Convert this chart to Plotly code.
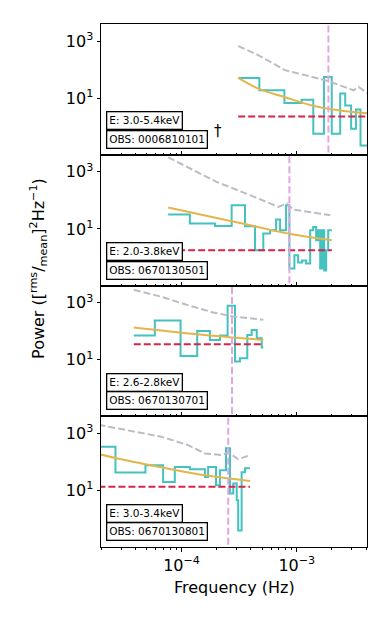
import plotly.graph_objects as go
from plotly.subplots import make_subplots

# text boxes
energy_bands = ["E: 3.0-5.4keV", "E: 2.0-3.8keV", "E: 2.6-2.8keV", "E: 3.0-3.4keV"]
obs_ids = ["OBS: 0006810101", "OBS: 0670130501", "OBS: 0670130701", "OBS: 0670130801"]

# binned power spectra: bin edges (Hz) and power per bin
psd1_edges = [3.10e-4, 4.73e-4, 7.80e-4, 1.10e-3, 1.39e-3, 1.72e-3, 2.01e-3,
              2.38e-3, 2.63e-3, 2.96e-3, 3.26e-3, 3.57e-3, 4.3e-3]
psd1_power = [51.4, 19.0, 6.8, 8.9, 0.57, 55.7, 0.57, 14.5, 5.6, 0.85, 4.0, 0.22]

psd2_edges = [7.65e-5, 1.18e-4, 1.95e-4, 2.72e-4, 3.55e-4, 4.34e-4, 5.12e-4,
              5.86e-4, 6.61e-4, 7.16e-4, 8.07e-4, 8.62e-4, 9.53e-4, 1.026e-3,
              1.112e-3, 1.205e-3, 1.306e-3, 1.386e-3, 1.472e-3, 1.531e-3,
              1.595e-3, 1.66e-3, 1.728e-3, 1.798e-3, 1.871e-3, 2.015e-3]
psd2_power = [32.0, 15.5, 12.7, 68, 12.4, 1.78, 6.9, 9.0, 21.4, 9.0, 68, 0.41,
              1.19, 0.67, 0.79, 0.62, 9.0, 11.7, 4.0, 9.0, 0.41, 9.0, 0.35, 1.78, 9.0]

psd3_edges = [3.85e-5, 5.86e-5, 9.80e-5, 1.367e-4, 1.762e-4, 2.153e-4, 2.51e-4,
              2.91e-4, 3.21e-4, 3.72e-4, 4.06e-4, 4.49e-4, 4.96e-4, 5.12e-4]
psd3_power = [70.5, 238, 13.5, 102, 49.4, 70.5, 775, 8.6, 11.2, 74, 111, 56.6, 26.7]

psd4_edges = [1.9e-5, 2.67e-5, 4.86e-5, 6.92e-5, 8.74e-5, 1.18e-4, 1.595e-4,
              1.70e-4, 1.99e-4, 2.153e-4, 2.43e-4, 2.63e-4, 2.81e-4, 3.01e-4,
              3.10e-4, 3.32e-4, 3.55e-4, 3.93e-4]
psd4_power = [338, 42.5, 76.8, 19.9, 66.9, 55.6, 29.8, 66.9, 15.2, 51.2, 304,
              7.8, 17.5, 4.5, 0.40, 43.5, 60.3]

# best-fit red-noise model (orange)
model1_f = [3.10e-4, 4.63e-4, 7.80e-4, 1.35e-3, 2.30e-3, 4.1e-3]
model1_p = [51.4, 21.8, 11.0, 5.6, 3.76, 2.95]
model2_f = [7.65e-5, 2.72e-4, 8.45e-4, 1.306e-3, 2.015e-3]
model2_p = [56.4, 18.6, 6.9, 5.1, 4.0]
model3_f = [3.85e-5, 1.35e-4, 2.6e-4, 5.12e-4]
model3_p = [135, 78, 61.5, 49.4]
model4_f = [1.9e-5, 2.91e-5, 6.48e-5, 1.44e-4, 3.93e-4]
model4_p = [190, 126, 66, 36, 21.4]

# significance curve (grey dashed)
sig1_f = [3.10e-4, 4.63e-4, 7.91e-4, 1.35e-3, 1.76e-3, 2.15e-3, 3.10e-3, 3.44e-3, 4.1e-3]
sig1_p = [670, 324, 96, 55.7, 42.7, 32.7, 19.0, 24.8, 15]
sig2_f = [7.65e-5, 2.01e-4, 3.93e-4, 6.92e-4, 8.19e-4, 9.33e-4, 1.95e-3]
sig2_p = [3240, 449, 153, 59.3, 78, 48, 30.3]
sig3_f = [3.85e-5, 6.48e-5, 1.105e-4, 1.88e-4, 2.81e-4, 5.12e-4]
sig3_p = [2830, 1660, 841, 454, 329, 250]
sig4_f = [1.9e-5, 3.43e-5, 6.70e-5, 1.14e-4, 1.595e-4, 2.23e-4, 2.54e-4, 3.10e-4, 3.93e-4]
sig4_p = [2000, 1305, 760, 388, 198, 173, 215, 125, 173]

# white-noise level (red dashed) and QPO frequency (pink dashed)
noise_levels = [2.31, 1.78, 34.8, 13.6]
qpo_freqs = [1.88e-3, 8.62e-4, 2.74e-4, 2.54e-4]

x_ticks = [1e-4, 1e-3]
x_ticktext = ["10<sup>\u22124</sup>", "10<sup>\u22123</sup>"]
y_ticks = [10, 1000]
y_ticktext = ["10<sup>1</sup>", "10<sup>3</sup>"]

TEAL = "#44c2c0"
ORANGE = "#e4b54a"
RED = "#d6254a"
GREY = "#bcbcc6"
PINK = "#e2a6e0"
FONT = "DejaVu Sans"

edges_all = [psd1_edges, psd2_edges, psd3_edges, psd4_edges]
power_all = [psd1_power, psd2_power, psd3_power, psd4_power]
model_all = [(model1_f, model1_p), (model2_f, model2_p), (model3_f, model3_p), (model4_f, model4_p)]
sig_all = [(sig1_f, sig1_p), (sig2_f, sig2_p), (sig3_f, sig3_p), (sig4_f, sig4_p)]

fig = make_subplots(rows=4, cols=1, shared_xaxes=True, vertical_spacing=0)

for i in range(4):
    row = i + 1
    edges = edges_all[i]
    power = power_all[i]
    fig.add_trace(go.Scatter(x=edges, y=power + [power[-1]], mode="lines",
                             line=dict(color=TEAL, width=2, shape="hv")), row=row, col=1)
    mf, mp = model_all[i]
    fig.add_trace(go.Scatter(x=mf, y=mp, mode="lines",
                             line=dict(color=ORANGE, width=2, shape="spline")), row=row, col=1)
    fig.add_trace(go.Scatter(x=[edges[0], edges[-1]], y=[noise_levels[i]] * 2, mode="lines",
                             line=dict(color=RED, width=2, dash="7px,3px")), row=row, col=1)
    sf, sp = sig_all[i]
    fig.add_trace(go.Scatter(x=sf, y=sp, mode="lines",
                             line=dict(color=GREY, width=2, dash="7px,3px")), row=row, col=1)
    fig.add_trace(go.Scatter(x=[qpo_freqs[i]] * 2, y=[1e-3, 1e5], mode="lines",
                             line=dict(color=PINK, width=2, dash="7px,3px")), row=row, col=1)

minor_vals = [m * 10 ** e for e in (-5, -4, -3) for m in range(2, 10)]

for i in range(4):
    row = i + 1
    bottom = row == 4
    fig.update_xaxes(type="log", range=[-4.699, -2.391], tickmode="array",
                     tickvals=x_ticks, ticktext=x_ticktext,
                     ticks="outside" if bottom else "inside", ticklen=4, tickwidth=1,
                     tickcolor="black", showticklabels=bottom,
                     minor=dict(tickmode="array", tickvals=minor_vals,
                                ticks="outside" if bottom else "inside",
                                ticklen=2, tickwidth=0.8, tickcolor="black", showgrid=False),
                     showline=True, mirror=True, linecolor="black", linewidth=1,
                     showgrid=False, zeroline=False,
                     tickfont=dict(family=FONT, size=16, color="black"), row=row, col=1)
    fig.update_yaxes(type="log", range=[-0.98, 3.6], tickmode="array",
                     tickvals=y_ticks, ticktext=y_ticktext,
                     ticks="outside", ticklen=3.5, tickwidth=1, tickcolor="black",
                     showline=True, mirror=True, linecolor="black", linewidth=1,
                     showgrid=False, zeroline=False,
                     tickfont=dict(family=FONT, size=16, color="black"), row=row, col=1)

# panel labels, positions in pixels converted to paper units
L, R, T, B = 101, 366.7, 24, 547
def px_x(px):
    return (px - L) / (R - L)
def px_y(py):
    return (B - py) / (B - T)

panel_h = (B - T) / 4
annotations = []
for i in range(4):
    pbottom = T + panel_h * (i + 1)
    for txt, yc in ((energy_bands[i], pbottom - 34), (obs_ids[i], pbottom - 15.5)):
        annotations.append(dict(text=txt, xref="paper", yref="paper",
                                x=px_x(106), y=px_y(yc), xanchor="left", yanchor="middle",
                                showarrow=False, bgcolor="white", bordercolor="black",
                                borderwidth=1.3, borderpad=2,
                                font=dict(family=FONT, size=10.5, color="black")))

annotations.append(dict(text="\u2020", xref="paper", yref="paper", x=px_x(212), y=px_y(131),
                        xanchor="left", yanchor="middle", showarrow=False,
                        font=dict(family=FONT, size=15, color="black")))
annotations.append(dict(text="Frequency (Hz)", xref="paper", yref="paper",
                        x=0.5, y=px_y(587), xanchor="center", yanchor="middle",
                        showarrow=False, font=dict(family=FONT, size=16, color="black")))
annotations.append(dict(text="Power ([<sup>rms</sup>/<sub>mean</sub>]<sup>2</sup>Hz<sup>\u22121</sup>)",
                        xref="paper", yref="paper", x=px_x(38), y=px_y(268),
                        xanchor="center", yanchor="middle", textangle=-90,
                        showarrow=False, font=dict(family=FONT, size=16, color="black")))

fig.update_layout(width=390, height=625, showlegend=False,
                  margin=dict(l=L, r=390 - R, t=T, b=625 - B),
                  paper_bgcolor="white", plot_bgcolor="white",
                  font=dict(family=FONT, color="black"),
                  annotations=annotations)

# drop the browser's default body margin so the figure sits at the page origin
fig.write_html("out.html", config={"displayModeBar": False},
               post_script="document.body.style.margin='0';")
